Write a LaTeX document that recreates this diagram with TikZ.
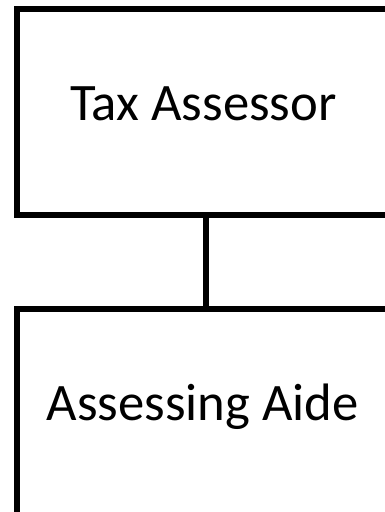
\documentclass[tikz,border=0pt]{standalone}
\usepackage{fontspec}
\setmainfont{Carlito}

\tikzset{every picture/.style={line width=4.5pt}}
\tikzset{
	box/.style={draw, rectangle, minimum width=379.5*0.75pt, minimum height=205.5*0.75pt, inner sep=0pt},
	title/.style={anchor=base, inner sep=0pt, font=\fontsize{39.5}{46}\selectfont}
}

\begin{document}
\begin{tikzpicture}[x=0.75pt,y=0.75pt,yscale=-1,xscale=1]
	\useasboundingbox (0,0) rectangle (385,512);

	% Boxes
	\node[box] (assessor) at (206.25,111.75) {};
	\node[box] (aide) at (206.25,411.75) {};

	% Text Node
	\node[title] (assessorlabel) at (203.5,120.7) {Tax Assessor};
	% Text Node
	\node[title] (aidelabel) at (202.5,420.7) {Assessing Aide};

	% Connector
	\draw (assessor.south) -- (aide.north);

\end{tikzpicture}
\end{document}
